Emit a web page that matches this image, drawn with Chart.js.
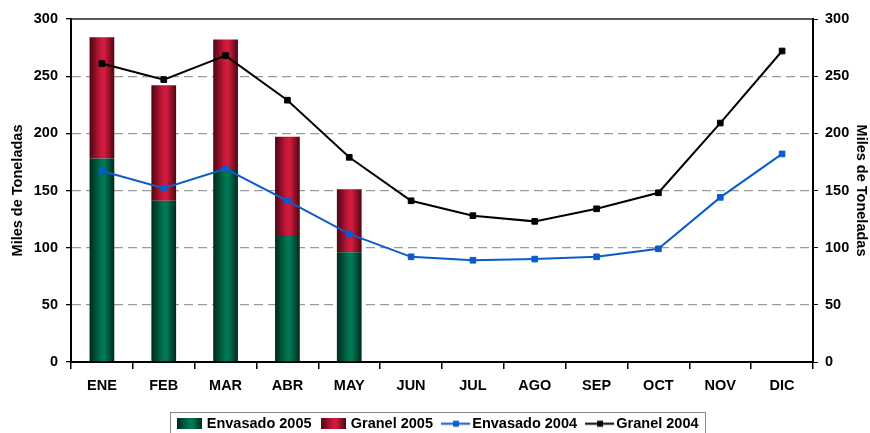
<!DOCTYPE html>
<html>
<head>
<meta charset="utf-8">
<script src="https://cdn.jsdelivr.net/npm/chart.js@4/dist/chart.umd.min.js"></script>
<style>
  html, body { margin: 0; padding: 0; background: #fff; }
  #wrap { width: 870px; height: 433px; }
</style>
</head>
<body>
<div id="wrap"><canvas id="grafico" width="870" height="433"></canvas></div>
<script>
//Datos//
const meses = ["ENE", "FEB", "MAR", "ABR", "MAY", "JUN", "JUL", "AGO", "SEP", "OCT", "NOV", "DIC"];
const envasado2005 = [178, 141, 168, 111, 96];
const granel2005 = [106, 101, 114, 86, 55];
const envasado2004 = [167, 152, 169, 141, 112, 92, 89, 90, 92, 99, 144, 182];
const granel2004 = [261, 247, 268, 229, 179, 141, 128, 123, 134, 148, 209, 272];
const ejeTicks = [0, 50, 100, 150, 200, 250, 300];

const verde = ["#012a1c", "#00704f", "#007a58", "#012a1c"];
const rojo = ["#4e0612", "#c8183a", "#d41c3e", "#4e0612"];

function degradado(colores) {
  return function (context) {
    const chart = context.chart;
    const x = chart.scales.x;
    if (!x || !chart.chartArea) return colores[1];
    const cx = x.getPixelForValue(context.dataIndex);
    const w = x.width / meses.length * 0.4;
    const g = chart.ctx.createLinearGradient(cx - w / 2, 0, cx + w / 2, 0);
    g.addColorStop(0, colores[0]);
    g.addColorStop(0.45, colores[1]);
    g.addColorStop(0.6, colores[2]);
    g.addColorStop(1, colores[3]);
    return g;
  };
}

// iconos de la leyenda: dibujo pegado a la derecha del lienzo
function iconoBarra(colores) {
  const c = document.createElement("canvas");
  c.width = 33; c.height = 11;
  const ctx = c.getContext("2d");
  const g = ctx.createLinearGradient(8, 0, 33, 0);
  g.addColorStop(0, colores[0]);
  g.addColorStop(0.45, colores[1]);
  g.addColorStop(0.6, colores[2]);
  g.addColorStop(1, colores[3]);
  ctx.fillStyle = g;
  ctx.fillRect(8, 0, 25, 11);
  return c;
}

function iconoLinea(color) {
  const c = document.createElement("canvas");
  c.width = 40; c.height = 11;
  const ctx = c.getContext("2d");
  ctx.strokeStyle = color;
  ctx.lineWidth = 2;
  ctx.beginPath();
  ctx.moveTo(10, 5.5);
  ctx.lineTo(39, 5.5);
  ctx.stroke();
  ctx.fillStyle = color;
  ctx.fillRect(22, 2.5, 6, 6);
  return c;
}

const iconos = [iconoBarra(verde), iconoBarra(rojo), iconoLinea("#0b5cc8"), iconoLinea("#000")];

const marcoLeyenda = {
  id: "marcoLeyenda",
  afterDraw(chart) {
    const lg = chart.legend;
    const ctx = chart.ctx;
    ctx.save();
    ctx.strokeStyle = "#888";
    ctx.lineWidth = 1;
    const hits = lg.legendHitBoxes;
    const left = hits[0].left - 2 + 8 - 7;
    const last = hits[hits.length - 1];
    const right = last.left + last.width + 7;
    ctx.strokeRect(Math.round(left) + 0.5, 412.5, Math.round(right - left), 30);
    // linea superior del area
    const a = chart.chartArea;
    ctx.strokeStyle = "#222";
    ctx.lineWidth = 1.5;
    ctx.beginPath();
    ctx.moveTo(a.left, a.top);
    ctx.lineTo(a.right, a.top);
    ctx.stroke();
    ctx.restore();
  },
};

const fuente = { family: "'Liberation Sans', Arial, sans-serif", weight: "bold", size: 14.5 };

const data = {
  labels: meses,
  datasets: [
    {
      type: "bar",
      label: "Envasado 2005",
      data: envasado2005,
      backgroundColor: degradado(verde),
      yAxisID: "y",
      barPercentage: 0.8,
      categoryPercentage: 0.5,
      order: 2,
    },
    {
      type: "bar",
      label: "Granel 2005",
      data: granel2005,
      backgroundColor: degradado(rojo),
      yAxisID: "y",
      barPercentage: 0.8,
      categoryPercentage: 0.5,
      order: 3,
    },
    {
      type: "line",
      label: "Envasado 2004",
      data: envasado2004,
      borderColor: "#0b5cc8",
      backgroundColor: "#0b5cc8",
      borderWidth: 2,
      pointStyle: "rect",
      pointRadius: 4,
      pointBorderWidth: 1,
      yAxisID: "y1",
      order: 1,
    },
    {
      type: "line",
      label: "Granel 2004",
      data: granel2004,
      borderColor: "#000",
      backgroundColor: "#000",
      borderWidth: 2,
      pointStyle: "rect",
      pointRadius: 4,
      pointBorderWidth: 1,
      yAxisID: "y1",
      order: 0,
    },
  ],
};

const config = {
  type: "bar",
  data: data,
  options: {
    responsive: false,
    animation: false,
    layout: { padding: { top: 19, left: 0, right: 0, bottom: -8 } },
    scales: {
      x: {
        stacked: true,
        grid: { offset: true, drawOnChartArea: false, tickLength: 7, tickColor: "#000", lineWidth: 1.5 },
        border: { color: "#000", width: 2 },
        ticks: { color: "#000", font: fuente, padding: 8 },
        afterFit: (s) => { s.height = 50.5; },
      },
      y: {
        stacked: true,
        position: "left",
        min: 0,
        max: 300,
        afterBuildTicks: (s) => { s.ticks = ejeTicks.map((v) => ({ value: v })); },
        afterFit: (s) => { s.width = 71; },
        grid: {
          color: (c) => (c.tick.value === 0 || c.tick.value === 300 ? "rgba(0,0,0,0)" : "#9a9a9a"),
          tickColor: "#000",
          tickLength: 5,
          lineWidth: 1.3,
        },
        border: { color: "#000", width: 2, dash: [9, 5] },
        ticks: { color: "#000", font: fuente, padding: 8 },
        title: { display: true, text: "Miles de Toneladas", color: "#000", font: fuente, padding: { top: 9, bottom: 0 } },
      },
      y1: {
        position: "right",
        min: 0,
        max: 300,
        afterBuildTicks: (s) => { s.ticks = ejeTicks.map((v) => ({ value: v })); },
        afterFit: (s) => { s.width = 57; },
        grid: { drawOnChartArea: false, tickColor: "#000", tickLength: 5 },
        border: { color: "#000", width: 2 },
        ticks: { color: "#000", font: fuente, padding: 7 },
        title: { display: true, text: "Miles de Toneladas", color: "#000", font: fuente, padding: { top: 0, bottom: 0 } },
      },
    },
    plugins: {
      legend: {
        position: "bottom",
        labels: {
          color: "#000",
          font: fuente,
          usePointStyle: true,
          pointStyleWidth: 28,
          boxHeight: 11,
          padding: 4,
          generateLabels: (chart) =>
            chart.data.datasets.map((ds, i) => ({
              text: ds.label,
              pointStyle: iconos[i],
              fontColor: "#000",
              lineWidth: 0,
              strokeStyle: "rgba(0,0,0,0)",
              datasetIndex: i,
            })),
        },
      },
      tooltip: { enabled: false },
    },
  },
  plugins: [marcoLeyenda],
};

const grafico = new Chart(document.getElementById("grafico").getContext("2d"), config);
</script>
</body>
</html>
